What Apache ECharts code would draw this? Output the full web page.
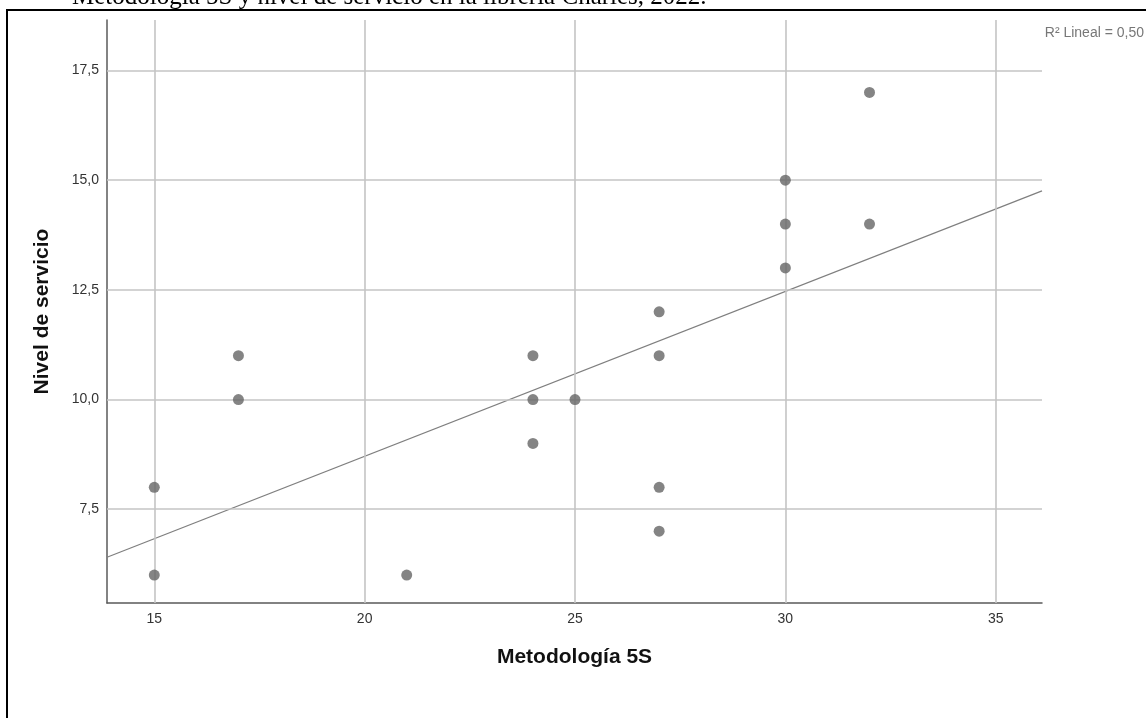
<!DOCTYPE html>
<html>
<head>
<meta charset="utf-8">
<script src="https://cdn.jsdelivr.net/npm/echarts@6/dist/echarts.min.js"></script>
<style>
html,body{margin:0;padding:0;background:#fff;}
#chart{width:1146px;height:718px;}
</style>
</head>
<body>
<div id="chart"></div>
<script>
// Data
const metodologia5S = [15, 15, 17, 17, 21, 24, 24, 24, 25, 27, 27, 27, 27, 30, 30, 30, 32, 32];
const nivelServicio = [8, 6, 11, 10, 6, 11, 10, 9, 10, 12, 11, 8, 7, 15, 14, 13, 17, 14];
const xTicks = [15, 20, 25, 30, 35];
const yTicks = [7.5, 10, 12.5, 15, 17.5];
const xRange = [13.876, 36.1];
const yRange = [5.363, 18.65];
// fit line (R² Lineal = 0,50), read at the plot edges
const fitX = [13.876, 36.1];
const fitY = [6.405, 14.756];

const title = 'Metodología 5S y nivel de servicio en la librería Charles, 2022.';
const xName = 'Metodología 5S';
const yName = 'Nivel de servicio';
const r2Text = 'R² Lineal = 0,50';

const points = metodologia5S.map((x, i) => [x, nivelServicio[i]]);
const fitLine = fitX.map((x, i) => [x, fitY[i]]);
const gridMarks = xTicks.map(v => ({xAxis: v})).concat(yTicks.map(v => ({yAxis: v})));

const chart = echarts.init(document.getElementById('chart'), null, {renderer: 'canvas'});
chart.setOption({
  animation: false,
  backgroundColor: '#ffffff',
  grid: {left: 107, top: 20, right: 104, bottom: 115, containLabel: false},
  xAxis: {
    type: 'value',
    min: xRange[0], max: xRange[1],
    name: xName,
    nameLocation: 'middle',
    nameGap: 44,
    nameTextStyle: {fontFamily: 'Liberation Sans, Arial, sans-serif', fontWeight: 'bold', fontSize: 21, color: '#111'},
    axisLine: {show: true, onZero: false, lineStyle: {color: '#5a5a5a', width: 1.5}},
    axisTick: {show: false},
    splitLine: {show: false},
    axisLabel: {
      customValues: xTicks,
      margin: 9,
      fontFamily: 'Liberation Sans, Arial, sans-serif',
      fontSize: 14,
      color: '#333',
      formatter: v => String(v)
    }
  },
  yAxis: {
    type: 'value',
    min: yRange[0], max: yRange[1],
    name: yName,
    nameLocation: 'middle',
    nameGap: 54,
    nameRotate: 90,
    nameTextStyle: {fontFamily: 'Liberation Sans, Arial, sans-serif', fontWeight: 'bold', fontSize: 21, color: '#111'},
    axisLine: {show: true, onZero: false, lineStyle: {color: '#5a5a5a', width: 1.5}},
    axisTick: {show: false},
    splitLine: {show: false},
    axisLabel: {
      customValues: yTicks,
      margin: 8,
      padding: [8, 0, 0, 0],
      fontFamily: 'Liberation Sans, Arial, sans-serif',
      fontSize: 14,
      color: '#333',
      formatter: v => v.toFixed(1).replace('.', ',')
    }
  },
  series: [
    {
      type: 'line',
      data: fitLine,
      symbol: 'none',
      z: 1,
      silent: true,
      lineStyle: {color: '#7f7f7f', width: 1.2},
      markLine: {
        silent: true,
        symbol: ['none', 'none'],
        label: {show: false},
        lineStyle: {color: '#c4c4c4', width: 1.6, type: 'solid'},
        data: gridMarks
      }
    },
    {
      type: 'scatter',
      data: points,
      symbol: 'circle',
      symbolSize: 11,
      z: 5,
      itemStyle: {color: '#656565'}
    }
  ],
  graphic: [
    {
      type: 'rect',
      shape: {x: 7, y: 10, width: 1300, height: 900},
      style: {fill: 'none', stroke: '#000', lineWidth: 2},
      silent: true
    },
    {
      type: 'text',
      x: 72, y: -2.5,
      style: {text: title, font: '25px "Liberation Serif", "Times New Roman", serif', fill: '#000', textAlign: 'left', textVerticalAlign: 'middle', verticalAlign: 'middle'},
      silent: true
    },
    {
      type: 'text',
      x: 1144, y: 33,
      style: {text: r2Text, font: '14px "Liberation Sans", Arial, sans-serif', fill: '#777', textAlign: 'right', align: 'right', textVerticalAlign: 'middle', verticalAlign: 'middle'},
      silent: true
    }
  ]
});
</script>
</body>
</html>
